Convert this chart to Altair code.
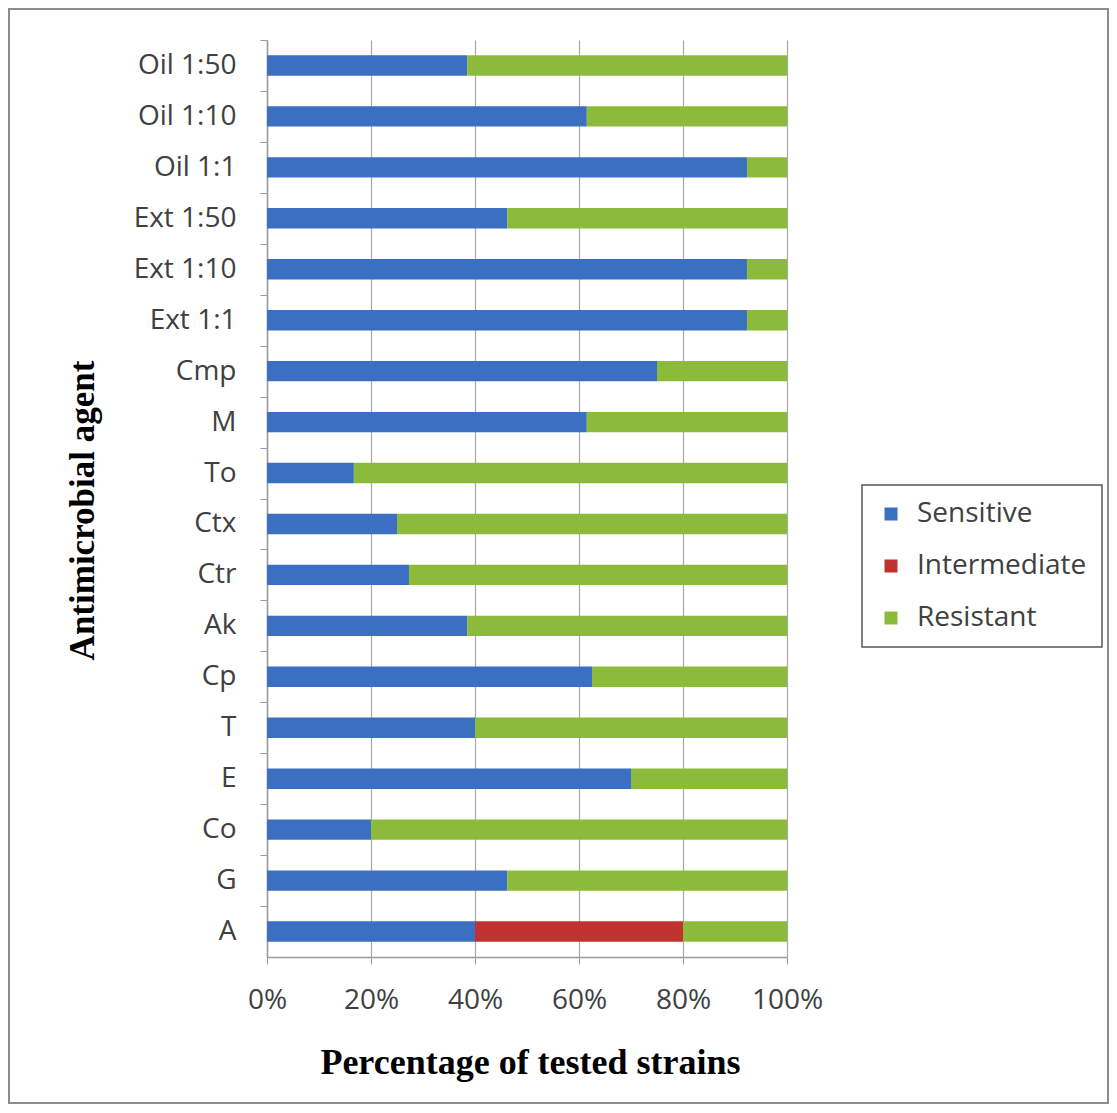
import altair as alt
import pandas as pd

agents = ["Oil 1:50", "Oil 1:10", "Oil 1:1", "Ext 1:50", "Ext 1:10", "Ext 1:1",
          "Cmp", "M", "To", "Ctx", "Ctr", "Ak", "Cp", "T", "E", "Co", "G", "A"]
sensitive = [38.5, 61.5, 92.3, 46.2, 92.3, 92.3, 75.0, 61.5, 16.7, 25.0, 27.3,
             38.5, 62.5, 40.0, 70.0, 20.0, 46.2, 40.0]
intermediate = [0, 0, 0, 0, 0, 0, 0, 0, 0, 0, 0, 0, 0, 0, 0, 0, 0, 40.0]
resistant = [61.5, 38.5, 7.7, 53.8, 7.7, 7.7, 25.0, 38.5, 83.3, 75.0, 72.7,
             61.5, 37.5, 60.0, 30.0, 80.0, 53.8, 20.0]
categories = ["Sensitive", "Intermediate", "Resistant"]
colors = ["#3B6FC1", "#C0312F", "#8CBB3C"]

rows = []
for i, a in enumerate(agents):
    for k, (cat, vals) in enumerate(zip(categories, [sensitive, intermediate, resistant])):
        rows.append({"agent": a, "status": cat, "order": k, "value": vals[i] / 100.0})
df = pd.DataFrame(rows)

LABEL_FONT = "Open Sans"
TITLE_FONT = "Liberation Serif"
HALF_STEP = 917 / 18 / 2

bars = alt.Chart(df).mark_bar().encode(
    y=alt.Y("agent:N", sort=agents,
            scale=alt.Scale(paddingInner=0.6, paddingOuter=0.3),
            axis=alt.Axis(title="Antimicrobial agent",
                          tickOffset=-HALF_STEP, labelOffset=HALF_STEP,
                          labelFont=LABEL_FONT, labelFontSize=28, labelColor="#404040",
                          labelPadding=24, tickSize=7, tickColor="#9a9a9a",
                          domainColor="#9a9a9a", domainWidth=1.5, grid=False,
                          titleFont=TITLE_FONT, titleFontSize=35, titleFontWeight="bold",
                          titleColor="#000000", titleAngle=270, titleX=-185, titleY=470,
                          titleAlign="center", titleBaseline="middle")),
    x=alt.X("value:Q", stack="zero",
            scale=alt.Scale(domain=[0, 1], nice=False),
            axis=alt.Axis(title="Percentage of tested strains", format=".0%",
                          values=[0, 0.2, 0.4, 0.6, 0.8, 1.0], labelFlush=False,
                          labelFont=LABEL_FONT, labelFontSize=28, labelColor="#404040",
                          labelPadding=22, tickSize=7, tickColor="#9a9a9a",
                          domainColor="#9a9a9a", domainWidth=1.5,
                          grid=True, gridColor="#a8a8a8", gridWidth=1.2,
                          titleFont=TITLE_FONT, titleFontSize=36, titleFontWeight="bold",
                          titleColor="#000000", titleX=263, titleY=105,
                          titleAlign="center", titleBaseline="middle")),
    color=alt.Color("status:N",
                    scale=alt.Scale(domain=categories, range=colors),
                    legend=alt.Legend(title=None, orient="none", legendX=595, legendY=445,
                                      symbolType="square", symbolSize=169,
                                      symbolStrokeWidth=0,
                                      labelFont=LABEL_FONT, labelFontSize=28,
                                      labelColor="#404040", labelOffset=12,
                                      labelLimit=400,
                                      rowPadding=24, padding=15,
                                      strokeColor="#555555")),
    order=alt.Order("order:Q"),
)

frame = alt.Chart(pd.DataFrame({"f": [0]})).mark_rect(
    filled=False, stroke="#8c8c8c", strokeWidth=2
).encode(
    x=alt.value(-258), x2=alt.value(841), y=alt.value(-31), y2=alt.value(1063)
)

chart = alt.layer(frame, bars).properties(
    width=520, height=917,
    padding={"left": 259, "top": 32, "right": 322, "bottom": 147},
    autosize=alt.AutoSizeParams(type="none"),
).configure_view(stroke=None).configure_legend(strokeWidth=1.5)

chart.save("out.html", embed_options={"renderer": "svg", "actions": False})
